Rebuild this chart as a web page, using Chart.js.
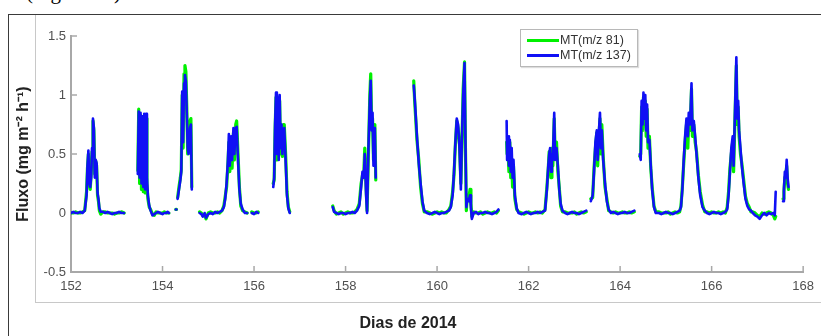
<!DOCTYPE html>
<html>
<head>
<meta charset="utf-8">
<script src="https://cdn.jsdelivr.net/npm/chart.js@4.4.0/dist/chart.umd.min.js"></script>
<style>
  html, body { margin: 0; padding: 0; background: #fff; }
  #wrap { position: relative; width: 821px; height: 336px; overflow: hidden; font-family: "Liberation Sans", Arial, sans-serif; }
  #caption { position: absolute; left: 26px; top: -20px; font: 21px "Liberation Serif", "Times New Roman", serif; color: #000; white-space: nowrap; }
  #outer { position: absolute; left: 8px; top: 14px; width: 830px; height: 340px; border-left: 1.5px solid #3a3a3a; border-top: 1.5px solid #3a3a3a; }
  #inner { position: absolute; left: 35px; top: 15px; width: 800px; height: 287px; border-left: 1.5px solid #c8c8c8; border-bottom: 1.5px solid #c8c8c8; }
  #chart { position: absolute; left: 0; top: 0; }
  #xtitle { position: absolute; left: 308px; width: 200px; top: 315px; line-height: 16px; text-align: center; font-size: 16px; font-weight: bold; color: #222; }
  #legend { position: absolute; left: 520px; top: 29px; width: 116px; height: 36px; border: 1px solid #b8b8b8; background: #fff; box-shadow: 1px 1px 1px #ddd; font-size: 12.5px; color: #333; }
  #legend .row { position: absolute; left: 6px; height: 14px; line-height: 14px; white-space: nowrap; }
  #legend .swatch { display: inline-block; width: 32px; height: 3px; vertical-align: middle; margin-right: 1px; }
</style>
</head>
<body>
<div id="wrap">
  <div id="caption">(Figura 12)</div>
  <div id="outer"></div>
  <div id="inner"></div>
  <canvas id="chart" width="821" height="336"></canvas>
  <div id="xtitle">Dias de 2014</div>
  <div id="legend"></div>
</div>
<script>
// dias do ano (2014); null nos valores = falha nos dados
const dias = [
  152.00,152.05,152.10,152.15,152.20,152.25,152.30,152.34,152.36,152.38,152.40,152.42,152.44,152.46,152.48,152.50,152.52,152.54,152.56,152.58,152.60,152.62,152.65,152.70,152.75,152.80,152.85,152.90,152.95,153.00,153.05,153.10,153.16,
  153.30,
  153.46,153.48,153.50,153.52,153.54,153.56,153.58,153.60,153.62,153.64,153.66,153.68,153.71,153.74,153.78,153.82,153.86,153.90,153.95,154.00,154.04,154.08,154.11,154.14,
  154.20,
  154.29,154.305,
  154.31,
  154.33,154.36,154.39,154.41,154.43,154.45,154.47,154.49,154.51,154.53,154.55,154.57,154.60,154.62,154.64,
  154.70,
  154.81,154.85,154.88,154.92,154.95,155.00,155.05,155.10,155.15,155.20,155.25,155.30,155.34,155.37,155.40,155.43,155.45,155.47,155.50,155.52,155.55,155.57,155.60,155.62,155.65,155.68,155.71,155.75,155.80,155.85,
  155.90,
  155.95,156.00,156.05,156.09,
  156.20,
  156.42,156.44,156.46,156.48,156.50,156.52,156.54,156.56,156.58,156.60,156.62,156.64,156.66,156.69,156.72,156.75,156.78,
  157.00,
  157.72,157.75,157.80,157.85,157.90,157.95,158.00,158.05,158.10,158.15,158.20,158.25,158.30,158.34,158.37,158.40,158.42,158.45,158.47,158.50,158.53,158.55,158.57,158.59,158.61,158.64,158.66,
  159.00,
  159.49,159.51,159.53,159.56,159.60,159.64,159.68,159.72,159.78,159.84,159.90,159.95,160.00,160.05,160.10,160.15,160.20,160.26,160.30,160.34,160.37,160.40,160.43,160.46,160.49,160.52,160.54,160.57,160.60,160.62,160.64,160.66,160.69,160.72,160.74,160.76,160.80,160.85,160.90,160.95,161.00,161.05,161.10,161.15,161.20,161.25,161.30,161.34,
  161.42,
  161.52,161.53,161.55,161.57,161.59,161.61,161.63,161.65,161.67,161.70,161.74,161.78,161.85,161.90,161.95,162.00,162.05,162.10,162.15,162.20,162.25,162.30,162.36,162.40,162.43,162.45,162.47,162.49,162.51,162.53,162.56,162.58,162.61,162.64,162.67,162.70,162.74,162.80,162.85,162.90,162.95,163.00,163.05,163.10,163.15,163.20,163.26,
  163.31,
  163.36,163.40,163.43,163.46,163.49,163.51,163.53,163.56,163.58,163.60,163.63,163.67,163.71,163.75,163.80,163.85,163.90,163.95,164.00,164.05,164.10,164.15,164.20,164.25,164.31,
  164.38,
  164.43,164.45,164.47,164.49,164.51,164.53,164.55,164.57,164.59,164.61,164.64,164.67,164.70,164.74,164.78,164.85,164.90,164.95,165.00,165.05,165.10,165.15,165.20,165.25,165.30,
  165.33,165.36,165.39,165.42,165.45,165.48,165.50,165.53,165.56,165.58,165.61,165.64,165.67,165.71,165.75,165.80,165.85,165.90,165.95,166.00,166.05,166.10,166.15,166.20,166.25,166.30,
  166.34,166.37,166.40,166.43,166.46,166.48,166.50,166.54,166.56,166.58,166.60,166.63,166.66,166.70,166.74,166.78,166.82,166.86,166.90,166.95,167.00,167.05,167.10,167.15,167.20,167.25,167.30,167.35,167.38,167.40,
  167.45,
  167.56,167.58,167.60,167.62,167.64,167.66,167.68
];

const mt81 = [
  0,0,0.01,0,0,0.01,0.02,0.18,0.38,0.5,0.27,0.2,0.33,0.52,0.78,0.7,0.33,0.44,0.4,0.15,0.1,0.02,-0.01,0.01,0.01,0,0,0,-0.01,0,0,0.01,0,
  null,
  0.36,0.88,0.25,0.83,0.2,0.8,0.18,0.82,0.17,0.8,0.25,0.12,0.05,0.03,-0.01,-0.02,0.01,0,0,0,0.01,0,0,0,
  null,
  0.03,0.03,
  null,
  0.13,0.22,0.3,0.37,1.0,0.55,1.18,1.25,1.2,0.9,0.5,0.52,0.78,0.8,0.22,
  null,
  0.01,0,-0.02,-0.01,-0.05,0,0.01,0,0,0.01,0,0.02,0.06,0.14,0.22,0.42,0.6,0.35,0.6,0.38,0.68,0.45,0.75,0.78,0.5,0.22,0.06,0.02,0.01,0,
  null,
  0.01,0,0,0.01,
  null,
  0.25,0.28,0.7,0.98,0.45,0.95,0.5,0.95,0.5,0.72,0.48,0.75,0.75,0.5,0.18,0.05,0.01,
  null,
  0.06,0.02,-0.01,0,0.01,-0.01,0,0.01,0,0,0.01,0.03,0.08,0.25,0.32,0.35,0.55,0.2,0.02,0.5,1.0,1.18,0.75,0.8,0.45,0.75,0.28,
  null,
  1.12,0.95,0.82,0.62,0.45,0.22,0.08,0.01,0.01,0,-0.01,0,0.01,0,0.01,0,0,0.03,0.06,0.18,0.32,0.58,0.78,0.72,0.58,0.25,0.55,1.05,1.28,0.55,0.02,0.15,0.12,0.2,0.08,-0.03,0.01,0,0,0.01,-0.01,0,0.01,0,0,0.01,0,0.02,
  null,
  0.6,0.5,0.55,0.35,0.6,0.3,0.45,0.22,0.4,0.12,0.03,0.01,0,-0.01,0,0.01,0,0,0.01,0,0.01,0,0.03,0.22,0.38,0.52,0.5,0.3,0.55,0.4,0.8,0.5,0.6,0.35,0.22,0.06,0.01,0.01,0,0,0,0.01,-0.01,0,0.01,0,0.01,
  null,
  0.12,0.13,0.38,0.55,0.68,0.4,0.6,0.8,0.5,0.75,0.48,0.22,0.12,0.02,0.01,0,0.01,0,0,0.01,0,0,0.01,0,0.01,
  null,
  0.48,0.5,0.9,0.7,0.98,0.75,0.95,0.65,0.88,0.55,0.65,0.38,0.22,0.06,0.01,0.01,0,0,0,0.01,-0.01,0,0.01,0,0.01,
  0.06,0.22,0.42,0.6,0.75,0.55,0.8,0.7,1.05,0.65,0.75,0.6,0.52,0.32,0.18,0.07,0.01,0.01,0,0.01,0,0,0.01,0,0.01,0,
  0.05,0.18,0.38,0.5,0.6,0.35,0.65,1.25,0.75,0.9,0.65,0.5,0.42,0.28,0.14,0.08,0.05,0.01,0.01,0,-0.02,-0.03,0,-0.01,0,0.01,0,-0.02,-0.05,-0.03,
  null,
  0.12,0.18,0.3,0.32,0.4,0.25,0.2
];

const mt137 = [
  0,0.01,0,0,0.01,0,0.02,0.15,0.4,0.53,0.25,0.22,0.3,0.55,0.8,0.72,0.3,0.45,0.42,0.17,0.12,0.04,0.01,0.01,0,0.01,0,-0.01,0,0,0.01,0,0,
  null,
  0.33,0.86,0.3,0.85,0.25,0.82,0.22,0.84,0.2,0.84,0.3,0.15,0.06,0.02,-0.02,-0.01,0,0.01,0,-0.01,0,0,0.01,0,
  null,
  0.03,0.03,
  null,
  0.12,0.2,0.28,0.35,1.03,0.6,1.1,1.17,1.12,0.85,0.55,0.5,0.72,0.75,0.2,
  null,
  0.0,-0.01,-0.03,0.0,-0.04,-0.01,0,-0.01,0.01,0,0.01,0.02,0.05,0.12,0.25,0.45,0.67,0.4,0.65,0.45,0.72,0.5,0.72,0.73,0.45,0.2,0.08,0.03,0.0,0.0,
  null,
  0,-0.01,0.01,0,
  null,
  0.22,0.3,0.75,1.02,0.5,0.98,0.45,1.0,0.55,0.75,0.5,0.7,0.72,0.45,0.15,0.04,0.0,
  null,
  0.05,0.01,0,-0.01,0,0,-0.01,0,0,0.01,0,0.02,0.06,0.22,0.35,0.3,0.5,0.15,0.0,0.55,0.95,1.12,0.7,0.85,0.4,0.72,0.3,
  null,
  1.08,0.98,0.85,0.65,0.42,0.25,0.1,0.02,0,-0.01,0,0.01,0,-0.01,0,0,0.01,0.02,0.05,0.15,0.35,0.6,0.8,0.75,0.55,0.2,0.6,1.0,1.27,0.6,0.05,0.12,0.1,0.15,0.05,-0.05,0.0,0.01,-0.01,0,0,0.01,0,0,-0.01,0,0.01,0.03,
  null,
  0.78,0.45,0.65,0.4,0.62,0.35,0.55,0.3,0.45,0.15,0.04,0.0,-0.01,0,0.01,0,-0.01,0,0,0.01,0,0.01,0.02,0.2,0.4,0.5,0.55,0.35,0.5,0.45,0.85,0.45,0.55,0.4,0.2,0.08,0.02,0,-0.01,0,0.01,0,0,-0.01,0,0.01,0.02,
  null,
  0.1,0.15,0.35,0.6,0.7,0.45,0.65,0.85,0.55,0.7,0.45,0.25,0.1,0.03,0,0.01,0,-0.01,0,0,0.01,0,0,0.01,0.02,
  null,
  0.5,0.45,0.95,0.75,1.02,0.8,1.0,0.7,0.92,0.6,0.62,0.4,0.2,0.05,0.0,0,-0.01,0,0.01,0,0,-0.01,0,0.01,0.02,
  0.05,0.2,0.45,0.65,0.8,0.65,0.85,0.75,1.1,0.7,0.78,0.65,0.5,0.3,0.15,0.05,0.02,0,-0.01,0,0.01,0,0,-0.01,0,0.01,
  0.03,0.15,0.35,0.55,0.65,0.4,0.7,1.32,0.8,0.95,0.7,0.55,0.4,0.25,0.12,0.06,0.03,0.02,0,-0.02,-0.03,-0.05,-0.02,0,-0.02,0,-0.01,0,-0.02,0.18,
  null,
  0.1,0.2,0.35,0.3,0.45,0.3,0.22
];

const seriesNames = ['MT(m/z 81)', 'MT(m/z 137)'];
const seriesColors = ['#00f000', '#1010f5'];
const xTicks = [152, 154, 156, 158, 160, 162, 164, 166, 168];
const yTicks = [-0.5, 0, 0.5, 1, 1.5];

const toPoints = (vals) => dias.map((d, i) => ({ x: d, y: vals[i] }));

// marcas dos eixos para dentro, como no MATLAB
const inwardTicks = {
  id: 'inwardTicks',
  beforeDatasetsDraw(chart) {
    const { ctx, scales: { x, y } } = chart;
    ctx.save();
    ctx.strokeStyle = '#a8a8a8';
    ctx.lineWidth = 1.5;
    x.ticks.forEach(t => {
      const px = x.getPixelForValue(t.value);
      ctx.beginPath(); ctx.moveTo(px, y.bottom); ctx.lineTo(px, y.bottom - 6); ctx.stroke();
    });
    y.ticks.forEach(t => {
      const py = y.getPixelForValue(t.value);
      ctx.beginPath(); ctx.moveTo(x.left, py); ctx.lineTo(x.left + 6, py); ctx.stroke();
    });
    ctx.restore();
  }
};

const font = "'Liberation Sans', Arial, sans-serif";

const chart = new Chart(document.getElementById('chart'), {
  type: 'line',
  data: {
    datasets: [
      { label: seriesNames[1], data: toPoints(mt137), borderColor: seriesColors[1], borderWidth: 2.6, order: 0 },
      { label: seriesNames[0], data: toPoints(mt81), borderColor: seriesColors[0], borderWidth: 3.2, order: 1 }
    ]
  },
  options: {
    responsive: false,
    animation: false,
    spanGaps: false,
    elements: { point: { radius: 0 }, line: { tension: 0, borderJoinStyle: 'round', borderCapStyle: 'round' } },
    layout: { padding: { left: 0, right: 15, top: 36, bottom: 0 } },
    plugins: { legend: { display: false }, tooltip: { enabled: false } },
    scales: {
      x: {
        type: 'linear', min: 152, max: 168,
        afterBuildTicks: s => { s.ticks = xTicks.map(v => ({ value: v })); },
        afterFit: s => { s.height = 64; },
        grid: { display: false, drawTicks: false },
        border: { color: '#a8a8a8', width: 2 },
        ticks: { color: '#505050', padding: 7, maxRotation: 0, font: { family: font, size: 13 } }
      },
      y: {
        min: -0.5, max: 1.5,
        afterBuildTicks: s => { s.ticks = yTicks.map(v => ({ value: v })); },
        afterFit: s => { s.width = 71; },
        grid: { display: false, drawTicks: false },
        border: { color: '#a8a8a8', width: 2 },
        ticks: { color: '#505050', padding: 5, font: { family: font, size: 13 }, callback: v => String(v) },
        title: { display: true, text: 'Fluxo (mg m⁻² h⁻¹)', color: '#222', padding: { top: 14, bottom: 0 }, font: { family: font, size: 16, weight: 'bold' } }
      }
    }
  },
  plugins: [inwardTicks]
});

// legenda em HTML, na ordem da figura original
const legend = document.getElementById('legend');
[0, 1].forEach((k, row) => {
  const div = document.createElement('div');
  div.className = 'row';
  div.style.top = (3 + row * 15) + 'px';
  div.innerHTML = '<span class="swatch" style="background:' + seriesColors[k] + '"></span>' + seriesNames[k];
  legend.appendChild(div);
});
</script>
</body>
</html>
